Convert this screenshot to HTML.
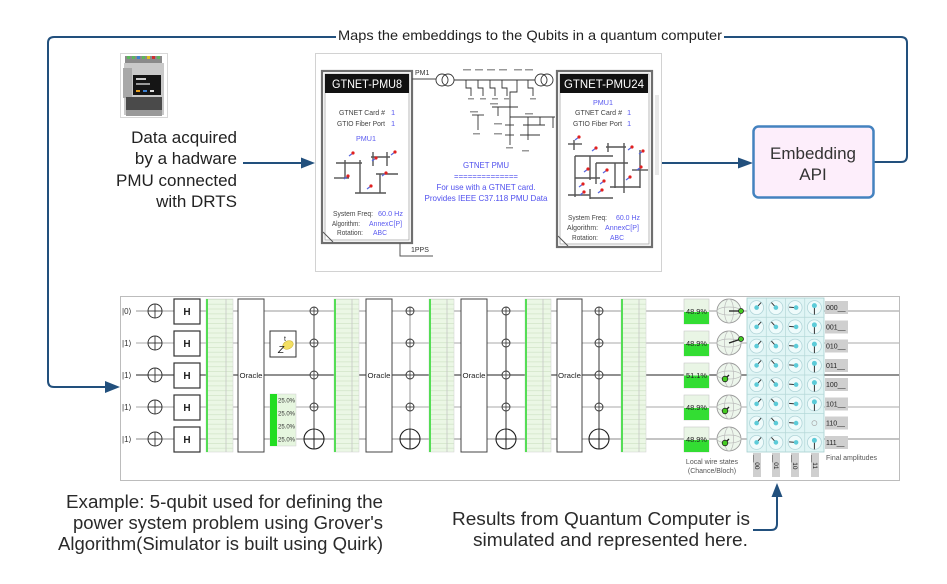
<!DOCTYPE html>
<html><head><meta charset="utf-8">
<style>
html,body{margin:0;padding:0;background:#fff;}
svg{display:block;}
text{font-family:"Liberation Sans",Arial,sans-serif;}
.mono{font-family:"Liberation Mono","DejaVu Sans Mono",monospace;}
</style></head><body>
<svg width="947" height="584" viewBox="0 0 947 584" xmlns="http://www.w3.org/2000/svg" xmlns:xlink="http://www.w3.org/1999/xlink">
<defs>
  <pattern id="gp" x="0" y="299" width="200" height="4.8" patternUnits="userSpaceOnUse">
    <rect width="200" height="4.8" fill="#ebf7e5"/>
    <rect x="0" y="0" width="200" height="0.8" fill="#d3e6ca"/>
  </pattern>
  <g id="xr"><circle r="7" fill="#fff" stroke="#333" stroke-width="1"/><line x1="-7" x2="7" y1="0" y2="0" stroke="#333" stroke-width="0.9"/><line x1="0" x2="0" y1="-7" y2="7" stroke="#333" stroke-width="0.9"/></g>
  <g id="sc"><circle r="4" fill="#fff" stroke="#333" stroke-width="0.9"/><line x1="-4" x2="4" y1="0" y2="0" stroke="#333" stroke-width="0.8"/><line x1="0" x2="0" y1="-4" y2="4" stroke="#333" stroke-width="0.8"/></g>
  <g id="bt"><circle r="10" fill="#fff" stroke="#222" stroke-width="1.1"/><line x1="-10" x2="10" y1="0" y2="0" stroke="#222" stroke-width="1"/><line x1="0" x2="0" y1="-10" y2="10" stroke="#222" stroke-width="1"/></g>
  <g id="a0"><circle r="7" fill="#effbfb" stroke="#b0d4d8" stroke-width="0.8"/><line x1="0" y1="0" x2="4.5" y2="-5" stroke="#333" stroke-width="1"/><circle r="2.3" fill="#5ccbd8"/></g>
  <g id="a1"><circle r="7" fill="#effbfb" stroke="#b0d4d8" stroke-width="0.8"/><line x1="0" y1="0" x2="-4.5" y2="-5" stroke="#333" stroke-width="1"/><circle r="2.3" fill="#5ccbd8"/></g>
  <g id="a2"><circle r="7" fill="#effbfb" stroke="#b0d4d8" stroke-width="0.8"/><line x1="0" y1="0" x2="-6" y2="-0.5" stroke="#333" stroke-width="1"/><circle cx="1" r="2.3" fill="#5ccbd8"/></g>
  <g id="a3"><circle r="7" fill="#effbfb" stroke="#b0d4d8" stroke-width="0.8"/><line x1="0" y1="-2" x2="0" y2="7" stroke="#333" stroke-width="1"/><circle cy="-2" r="2.5" fill="#5ccbd8"/></g>
  <g id="bl"><circle r="12" fill="#edf6ec" stroke="#9a9a9a" stroke-width="0.9"/><ellipse rx="12" ry="4" fill="none" stroke="#bbb" stroke-width="0.7"/><ellipse rx="4.5" ry="12" fill="none" stroke="#bbb" stroke-width="0.7"/></g>
  <g id="rd"><line x1="-4" y1="3" x2="0" y2="0" stroke="#5566dd" stroke-width="1.2"/><circle r="1.6" fill="#e02020"/></g>
</defs>

<!-- ===== main connector (Embedding API -> circuit) ===== -->
<path d="M874,162 H901 Q907,162 907,156 V43 Q907,37 901,37 H54 Q48,37 48,43 V381 Q48,387 54,387 H106" fill="none" stroke="#22507d" stroke-width="2"/>
<polygon points="120,387 105,381 105,393" fill="#22507d"/>
<rect x="336" y="27" width="388" height="18" fill="#fff"/>
<text x="530" y="40" font-size="14" text-anchor="middle" fill="#222" textLength="384" lengthAdjust="spacingAndGlyphs">Maps the embeddings to the Qubits in a quantum computer</text>

<!-- ===== PMU device icon ===== -->
<rect x="120.5" y="53.5" width="47" height="64" fill="#fff" stroke="#d8d8d8"/>
<rect x="125" y="56" width="37" height="7" fill="#8a8a8a"/>
<rect x="127" y="56" width="3" height="3" fill="#5cb85c"/><rect x="132" y="56" width="3" height="3" fill="#5cb85c"/><rect x="137" y="56" width="3" height="3" fill="#3b7fd0"/><rect x="142" y="56" width="3" height="3" fill="#5cb85c"/><rect x="147" y="56" width="3" height="3" fill="#e0c020"/><rect x="152" y="56" width="3" height="3" fill="#d03030"/><rect x="157" y="56" width="3" height="3" fill="#5cb85c"/>
<rect x="124" y="63" width="40" height="52" fill="#c9c9c9"/>
<rect x="123" y="68" width="9" height="30" fill="#a9a9a9"/>
<rect x="133" y="75" width="28" height="20" fill="#151515"/>
<rect x="136" y="78" width="10" height="2" fill="#ccc"/><rect x="136" y="83" width="14" height="2" fill="#999"/>
<rect x="136" y="90" width="4" height="2" fill="#e8a020"/><rect x="143" y="90" width="4" height="2" fill="#3b7fd0"/><rect x="150" y="90" width="4" height="2" fill="#ddd"/>
<rect x="126" y="97" width="36" height="13" fill="#4a4a4a"/>
<rect x="126" y="110" width="36" height="6" fill="#9a9a9a"/>

<!-- ===== Data acquired text ===== -->
<g font-size="17" fill="#222" text-anchor="end">
<text x="237" y="143">Data acquired</text>
<text x="237" y="164">by a hadware</text>
<text x="237" y="186">PMU connected</text>
<text x="237" y="207">with DRTS</text>
</g>
<line x1="243" y1="163" x2="302" y2="163" stroke="#22507d" stroke-width="2"/>
<polygon points="315,163 301,157.5 301,168.5" fill="#22507d"/>

<!-- ===== PMU screenshot ===== -->
<rect x="315.5" y="53.5" width="346" height="218" fill="#fff" stroke="#d2d2d2"/>

<!-- left block -->
<rect x="322" y="71" width="90" height="172" fill="#fff" stroke="#6f6f6f" stroke-width="2.2"/>
<rect x="325" y="74" width="84" height="166" fill="none" stroke="#a8a8a8" stroke-width="0.8"/>
<rect x="325" y="74" width="84" height="19" fill="#111"/>
<text x="367" y="88" font-size="12" fill="#fff" text-anchor="middle" textLength="70" lengthAdjust="spacingAndGlyphs">GTNET-PMU8</text>
<g font-size="7.5" fill="#444">
<text x="339" y="115" textLength="46" lengthAdjust="spacingAndGlyphs">GTNET Card #</text>
<text x="337" y="126" textLength="48" lengthAdjust="spacingAndGlyphs">GTIO Fiber Port</text>
<text x="333" y="216" textLength="40" lengthAdjust="spacingAndGlyphs">System Freq:</text>
<text x="332" y="226" textLength="28" lengthAdjust="spacingAndGlyphs">Algorithm:</text>
<text x="337" y="235" textLength="26" lengthAdjust="spacingAndGlyphs">Rotation:</text>
</g>
<g font-size="7.5" fill="#5a5af0">
<text x="391" y="115">1</text><text x="391" y="126">1</text>
<text x="366" y="141" text-anchor="middle" textLength="20" lengthAdjust="spacingAndGlyphs">PMU1</text>
<text x="378" y="216" textLength="25" lengthAdjust="spacingAndGlyphs">60.0 Hz</text>
<text x="369" y="226" textLength="33" lengthAdjust="spacingAndGlyphs">AnnexC[P]</text>
<text x="373" y="235" textLength="14" lengthAdjust="spacingAndGlyphs">ABC</text>
</g>
<line x1="323" y1="232" x2="333" y2="242" stroke="#555" stroke-width="1"/>
<!-- left tree -->
<g stroke="#555" stroke-width="1.4" fill="none">
<path d="M336,163 H362"/><path d="M345,160 V178"/><path d="M360,160 V193"/>
<path d="M371,157 H390"/><path d="M373,152 V166"/><path d="M387,152 V166"/>
<path d="M376,174 H398"/><path d="M380,174 V193"/><path d="M355,193 H386"/><path d="M334,178 H349"/>
</g>
<use xlink:href="#rd" x="353" y="153"/><use xlink:href="#rd" x="395" y="152"/><use xlink:href="#rd" x="376" y="158"/>
<use xlink:href="#rd" x="348" y="176"/><use xlink:href="#rd" x="386" y="173"/><use xlink:href="#rd" x="371" y="186"/>

<!-- PM1 / 1PPS -->
<line x1="412" y1="79" x2="436" y2="79" stroke="#444" stroke-width="1"/>
<text x="415" y="75" font-size="7" fill="#333">PM1</text>
<path d="M400,243 V256 H433" fill="none" stroke="#555" stroke-width="1"/>
<text x="411" y="252" font-size="7" fill="#333">1PPS</text>

<!-- single-line diagram -->
<g stroke="#333" stroke-width="0.9" fill="none">
<circle cx="442" cy="80" r="6"/><circle cx="448" cy="80" r="6"/>
<circle cx="541" cy="80" r="6"/><circle cx="547" cy="80" r="6"/>
<path d="M454,80 H535"/>
<path d="M466,80 V88 H471 V96"/><path d="M478,80 V88 H483 V96"/><path d="M490,80 V88 H495 V96"/>
<path d="M502,80 V88 H507 V96"/><path d="M517,80 V92 H510 V145"/><path d="M528,80 V88 H533 V96"/>
<path d="M492,107 H518"/><path d="M498,107 V116"/>
<path d="M510,117 H555"/><path d="M528,117 V140"/><path d="M523,125 H545"/><path d="M520,135 H540"/>
<path d="M472,115 H484"/><path d="M478,115 V130"/>
<path d="M505,125 H514"/><path d="M505,135 H514"/>
<path d="M540,117 V125"/><path d="M553,117 V128"/>
</g>
<g fill="#999">
<rect x="463" y="69" width="8" height="1.5"/><rect x="475" y="69" width="8" height="1.5"/><rect x="487" y="69" width="8" height="1.5"/><rect x="499" y="69" width="8" height="1.5"/><rect x="514" y="69" width="8" height="1.5"/><rect x="525" y="69" width="8" height="1.5"/>
<rect x="468" y="98" width="6" height="1.5"/><rect x="480" y="98" width="6" height="1.5"/><rect x="492" y="98" width="6" height="1.5"/><rect x="504" y="98" width="6" height="1.5"/><rect x="530" y="98" width="6" height="1.5"/>
<rect x="490" y="103" width="8" height="1.5"/><rect x="470" y="111" width="8" height="1.5"/><rect x="525" y="113" width="8" height="1.5"/>
<rect x="494" y="123" width="8" height="1.5"/><rect x="494" y="133" width="8" height="1.5"/><rect x="473" y="133" width="7" height="1.5"/><rect x="506" y="147" width="7" height="1.5"/><rect x="522" y="150" width="7" height="1.5"/>
</g>

<!-- center text -->
<g font-size="8.5" fill="#5050ee" text-anchor="middle">
<text x="486" y="168" textLength="46" lengthAdjust="spacingAndGlyphs">GTNET PMU</text>
<text x="486" y="179" textLength="64" lengthAdjust="spacingAndGlyphs">==============</text>
<text x="486" y="190" textLength="99" lengthAdjust="spacingAndGlyphs">For use with a GTNET card.</text>
<text x="486" y="201" textLength="123" lengthAdjust="spacingAndGlyphs">Provides IEEE C37.118 PMU Data</text>
</g>

<!-- right block -->
<rect x="557" y="71" width="95" height="176" fill="#fff" stroke="#6f6f6f" stroke-width="2.2"/>
<rect x="560" y="74" width="89" height="170" fill="none" stroke="#a8a8a8" stroke-width="0.8"/>
<rect x="560" y="74" width="88" height="19" fill="#111"/>
<text x="604" y="88" font-size="12" fill="#fff" text-anchor="middle" textLength="80" lengthAdjust="spacingAndGlyphs">GTNET-PMU24</text>
<g font-size="7.5" fill="#444">
<text x="575" y="115" textLength="47" lengthAdjust="spacingAndGlyphs">GTNET Card #</text>
<text x="573" y="126" textLength="49" lengthAdjust="spacingAndGlyphs">GTIO Fiber Port</text>
<text x="568" y="220" textLength="39" lengthAdjust="spacingAndGlyphs">System Freq:</text>
<text x="567" y="230" textLength="31" lengthAdjust="spacingAndGlyphs">Algorithm:</text>
<text x="572" y="240" textLength="26" lengthAdjust="spacingAndGlyphs">Rotation:</text>
</g>
<g font-size="7.5" fill="#5a5af0">
<text x="603" y="105" text-anchor="middle" textLength="20" lengthAdjust="spacingAndGlyphs">PMU1</text>
<text x="627" y="115">1</text><text x="627" y="126">1</text>
<text x="616" y="220" textLength="24" lengthAdjust="spacingAndGlyphs">60.0 Hz</text>
<text x="605" y="230" textLength="34" lengthAdjust="spacingAndGlyphs">AnnexC[P]</text>
<text x="610" y="240" textLength="14" lengthAdjust="spacingAndGlyphs">ABC</text>
</g>
<line x1="558" y1="236" x2="568" y2="246" stroke="#555" stroke-width="1"/>
<!-- right tree -->
<g stroke="#555" stroke-width="1.4" fill="none">
<path d="M568,144 H582"/><path d="M574,140 V150"/>
<path d="M606,147 H626"/><path d="M608,143 V152"/><path d="M624,143 V193"/>
<path d="M575,156 H613"/><path d="M575,156 V197"/><path d="M590,156 V180"/>
<path d="M596,163 V184"/><path d="M596,163 H628"/><path d="M615,163 V188"/>
<path d="M575,178 H600"/><path d="M568,195 H590"/><path d="M590,189 V199"/><path d="M590,198 H613"/>
<path d="M610,187 H640"/><path d="M640,150 V188"/><path d="M632,170 H648"/>
</g>
<use xlink:href="#rd" x="579" y="137"/><use xlink:href="#rd" x="596" y="148"/><use xlink:href="#rd" x="632" y="147"/>
<use xlink:href="#rd" x="643" y="151"/><use xlink:href="#rd" x="641" y="167"/><use xlink:href="#rd" x="630" y="177"/>
<use xlink:href="#rd" x="588" y="169"/><use xlink:href="#rd" x="607" y="170"/><use xlink:href="#rd" x="583" y="184"/>
<use xlink:href="#rd" x="604" y="181"/><use xlink:href="#rd" x="602" y="190"/><use xlink:href="#rd" x="584" y="192"/>
<rect x="655" y="95" width="4" height="80" fill="#e8e8e8"/>

<!-- arrow to Embedding API -->
<line x1="662" y1="163" x2="740" y2="163" stroke="#22507d" stroke-width="2"/>
<polygon points="753,163 738,157.5 738,168.5" fill="#22507d"/>

<!-- Embedding API box -->
<rect x="753.5" y="126.5" width="120" height="71" rx="5" fill="#fdeefb" stroke="#4482bf" stroke-width="2.5"/>
<text x="813" y="159" font-size="17" fill="#333" text-anchor="middle">Embedding</text>
<text x="813" y="180" font-size="17" fill="#333" text-anchor="middle">API</text>

<!-- ===== Quantum circuit ===== -->
<rect x="120.5" y="296.5" width="779" height="184" fill="#fff" stroke="#bcbcbc"/>
<!-- wires -->
<g stroke-width="1">
<line x1="136" y1="311" x2="899" y2="311" stroke="#9a9a9a"/>
<line x1="136" y1="343" x2="899" y2="343" stroke="#aaa"/>
<line x1="136" y1="375" x2="899" y2="375" stroke="#222"/>
<line x1="136" y1="407" x2="899" y2="407" stroke="#aaa"/>
<line x1="136" y1="439" x2="899" y2="439" stroke="#888"/>
</g>
<g font-size="8" fill="#333" style="font-family:'Liberation Sans','DejaVu Sans',sans-serif">
<text x="122" y="314">|0⟩</text><text x="122" y="346">|1⟩</text><text x="122" y="378">|1⟩</text><text x="122" y="410">|1⟩</text><text x="122" y="442">|1⟩</text>
</g>
<use xlink:href="#xr" x="155" y="311"/><use xlink:href="#xr" x="155" y="343"/><use xlink:href="#xr" x="155" y="375"/><use xlink:href="#xr" x="155" y="407"/><use xlink:href="#xr" x="155" y="439"/>
<!-- H gates -->
<g fill="#fff" stroke="#333" stroke-width="1.2">
<rect x="174" y="299" width="26" height="25"/><rect x="174" y="331" width="26" height="25"/><rect x="174" y="363" width="26" height="25"/><rect x="174" y="395" width="26" height="25"/><rect x="174" y="427" width="26" height="25"/>
</g>
<g font-size="10" font-weight="bold" fill="#222" text-anchor="middle">
<text x="187" y="315">H</text><text x="187" y="347">H</text><text x="187" y="379">H</text><text x="187" y="411">H</text><text x="187" y="443">H</text>
</g>
<!-- green density displays -->
<g>
<rect x="206" y="299" width="27" height="153" fill="url(#gp)" stroke="#d0d0d0" stroke-width="0.5"/><line x1="207" y1="299" x2="207" y2="452" stroke="#55dd55" stroke-width="2"/><line x1="226" y1="299" x2="226" y2="452" stroke="#c6c6c6" stroke-width="0.8"/>
<rect x="334" y="299" width="25" height="153" fill="url(#gp)" stroke="#d0d0d0" stroke-width="0.5"/><line x1="335" y1="299" x2="335" y2="452" stroke="#55dd55" stroke-width="2"/><line x1="352" y1="299" x2="352" y2="452" stroke="#c6c6c6" stroke-width="0.8"/>
<rect x="429" y="299" width="25" height="153" fill="url(#gp)" stroke="#d0d0d0" stroke-width="0.5"/><line x1="430" y1="299" x2="430" y2="452" stroke="#55dd55" stroke-width="2"/><line x1="447" y1="299" x2="447" y2="452" stroke="#c6c6c6" stroke-width="0.8"/>
<rect x="525" y="299" width="26" height="153" fill="url(#gp)" stroke="#d0d0d0" stroke-width="0.5"/><line x1="526" y1="299" x2="526" y2="452" stroke="#55dd55" stroke-width="2"/><line x1="543" y1="299" x2="543" y2="452" stroke="#c6c6c6" stroke-width="0.8"/>
<rect x="621" y="299" width="25" height="153" fill="url(#gp)" stroke="#d0d0d0" stroke-width="0.5"/><line x1="622" y1="299" x2="622" y2="452" stroke="#55dd55" stroke-width="2"/><line x1="639" y1="299" x2="639" y2="452" stroke="#c6c6c6" stroke-width="0.8"/>
</g>
<!-- Oracles -->
<g fill="#fff" stroke="#444" stroke-width="1">
<rect x="238" y="299" width="26" height="153"/><rect x="366" y="299" width="26" height="153"/><rect x="461" y="299" width="26" height="153"/><rect x="557" y="299" width="25" height="153"/>
</g>
<g font-size="7.5" fill="#222" text-anchor="middle">
<text x="251" y="378" textLength="23" lengthAdjust="spacingAndGlyphs">Oracle</text>
<text x="379" y="378" textLength="23" lengthAdjust="spacingAndGlyphs">Oracle</text>
<text x="474" y="378" textLength="23" lengthAdjust="spacingAndGlyphs">Oracle</text>
<text x="569.5" y="378" textLength="23" lengthAdjust="spacingAndGlyphs">Oracle</text>
</g>
<!-- Z^t gate -->
<rect x="270" y="331" width="26" height="26" fill="#fff" stroke="#333" stroke-width="1"/>
<ellipse cx="288" cy="345" rx="5.5" ry="4" fill="#f3df62" stroke="#c8b030" stroke-width="0.5" transform="rotate(-25 288 345)"/>
<text x="278" y="353" font-size="10" font-style="italic" fill="#222">Z</text>
<text x="284" y="341" font-size="7" fill="#222">t</text>
<!-- 25% display -->
<rect x="270" y="394" width="26" height="52" fill="#e6f6df" stroke="#d0d0d0" stroke-width="0.5"/>
<rect x="270" y="394" width="7" height="52" fill="#22dd22"/>
<g class="mono" font-size="6" fill="#333">
<text x="278" y="402.5">25.0%</text><text x="278" y="415.5">25.0%</text><text x="278" y="428.5">25.0%</text><text x="278" y="441.5">25.0%</text>
</g>
<!-- control columns -->
<line x1="314" y1="311" x2="314" y2="439" stroke="#444" stroke-width="1"/>
<line x1="410" y1="311" x2="410" y2="439" stroke="#999" stroke-width="1"/>
<line x1="506" y1="311" x2="506" y2="439" stroke="#333" stroke-width="1"/>
<line x1="599" y1="311" x2="599" y2="439" stroke="#333" stroke-width="1"/>
<use xlink:href="#sc" x="314" y="311"/><use xlink:href="#sc" x="314" y="343"/><use xlink:href="#sc" x="314" y="375"/><use xlink:href="#sc" x="314" y="407"/><use xlink:href="#bt" x="314" y="439"/>
<use xlink:href="#sc" x="410" y="311"/><use xlink:href="#sc" x="410" y="343"/><use xlink:href="#sc" x="410" y="375"/><use xlink:href="#sc" x="410" y="407"/><use xlink:href="#bt" x="410" y="439"/>
<use xlink:href="#sc" x="506" y="311"/><use xlink:href="#sc" x="506" y="343"/><use xlink:href="#sc" x="506" y="375"/><use xlink:href="#sc" x="506" y="407"/><use xlink:href="#bt" x="506" y="439"/>
<use xlink:href="#sc" x="599" y="311"/><use xlink:href="#sc" x="599" y="343"/><use xlink:href="#sc" x="599" y="375"/><use xlink:href="#sc" x="599" y="407"/><use xlink:href="#bt" x="599" y="439"/>

<!-- chance displays -->
<g stroke="#c8c8c8" stroke-width="0.6">
<rect x="684" y="299" width="25" height="25" fill="#e9f5e5"/><rect x="684" y="312" width="25" height="12" fill="#33dd33" stroke="none"/>
<rect x="684" y="331" width="25" height="25" fill="#e9f5e5"/><rect x="684" y="344" width="25" height="12" fill="#33dd33" stroke="none"/>
<rect x="684" y="363" width="25" height="25" fill="#e9f5e5"/><rect x="684" y="375.5" width="25" height="12.5" fill="#33dd33" stroke="none"/>
<rect x="684" y="395" width="25" height="25" fill="#e9f5e5"/><rect x="684" y="408" width="25" height="12" fill="#33dd33" stroke="none"/>
<rect x="684" y="427" width="25" height="25" fill="#e9f5e5"/><rect x="684" y="440" width="25" height="12" fill="#33dd33" stroke="none"/>
</g>
<g font-size="7.5" fill="#222" text-anchor="middle">
<text x="696.5" y="314" textLength="21" lengthAdjust="spacingAndGlyphs">48.9%</text>
<text x="696.5" y="346" textLength="21" lengthAdjust="spacingAndGlyphs">48.9%</text>
<text x="696.5" y="378" textLength="21" lengthAdjust="spacingAndGlyphs">51.1%</text>
<text x="696.5" y="410" textLength="21" lengthAdjust="spacingAndGlyphs">48.9%</text>
<text x="696.5" y="442" textLength="21" lengthAdjust="spacingAndGlyphs">48.9%</text>
</g>
<!-- Bloch spheres -->
<use xlink:href="#bl" x="729" y="311"/><use xlink:href="#bl" x="729" y="343"/><use xlink:href="#bl" x="729" y="375"/><use xlink:href="#bl" x="729" y="407"/><use xlink:href="#bl" x="729" y="439"/>
<g stroke="#222" stroke-width="1.3">
<line x1="729" y1="311" x2="741" y2="311"/><line x1="729" y1="343" x2="741" y2="339"/>
<line x1="729" y1="375" x2="725" y2="379"/><line x1="729" y1="407" x2="725" y2="411"/><line x1="729" y1="439" x2="725" y2="443"/>
</g>
<g fill="#44cc22" stroke="#222" stroke-width="0.8">
<circle cx="741" cy="311" r="2.5"/><circle cx="741" cy="339" r="2.5"/><circle cx="725" cy="379" r="2.8"/><circle cx="725" cy="411" r="2.8"/><circle cx="725" cy="443" r="2.8"/>
</g>
<text x="712" y="464" font-size="7" fill="#555" text-anchor="middle">Local wire states</text>
<text x="712" y="473" font-size="7" fill="#555" text-anchor="middle">(Chance/Bloch)</text>

<!-- amplitude grid -->
<rect x="747" y="298" width="77" height="154" fill="#e0f5f5" stroke="#a6cfcf" stroke-width="0.8"/>
<g stroke="#b5d8d8" stroke-width="0.7">
<line x1="766.25" y1="298" x2="766.25" y2="452"/><line x1="785.5" y1="298" x2="785.5" y2="452"/><line x1="804.75" y1="298" x2="804.75" y2="452"/>
<line x1="747" y1="317.25" x2="824" y2="317.25"/><line x1="747" y1="336.5" x2="824" y2="336.5"/><line x1="747" y1="355.75" x2="824" y2="355.75"/><line x1="747" y1="375" x2="824" y2="375"/><line x1="747" y1="394.25" x2="824" y2="394.25"/><line x1="747" y1="413.5" x2="824" y2="413.5"/><line x1="747" y1="432.75" x2="824" y2="432.75"/>
</g>
<use xlink:href="#a0" x="756.6" y="307.6"/><use xlink:href="#a1" x="775.9" y="307.6"/><use xlink:href="#a2" x="795.1" y="307.6"/><use xlink:href="#a3" x="814.4" y="307.6"/>
<use xlink:href="#a0" x="756.6" y="326.9"/><use xlink:href="#a1" x="775.9" y="326.9"/><use xlink:href="#a2" x="795.1" y="326.9"/><use xlink:href="#a3" x="814.4" y="326.9"/>
<use xlink:href="#a0" x="756.6" y="346.1"/><use xlink:href="#a1" x="775.9" y="346.1"/><use xlink:href="#a2" x="795.1" y="346.1"/><use xlink:href="#a3" x="814.4" y="346.1"/>
<use xlink:href="#a0" x="756.6" y="365.4"/><use xlink:href="#a1" x="775.9" y="365.4"/><use xlink:href="#a2" x="795.1" y="365.4"/><use xlink:href="#a3" x="814.4" y="365.4"/>
<use xlink:href="#a0" x="756.6" y="384.6"/><use xlink:href="#a1" x="775.9" y="384.6"/><use xlink:href="#a2" x="795.1" y="384.6"/><use xlink:href="#a3" x="814.4" y="384.6"/>
<use xlink:href="#a0" x="756.6" y="403.9"/><use xlink:href="#a1" x="775.9" y="403.9"/><use xlink:href="#a2" x="795.1" y="403.9"/><use xlink:href="#a3" x="814.4" y="403.9"/>
<use xlink:href="#a0" x="756.6" y="423.1"/><use xlink:href="#a1" x="775.9" y="423.1"/><use xlink:href="#a2" x="795.1" y="423.1"/>
<circle cx="814.4" cy="423.1" r="2.5" fill="none" stroke="#aaa" stroke-width="0.7"/>
<use xlink:href="#a0" x="756.6" y="442.4"/><use xlink:href="#a1" x="775.9" y="442.4"/><use xlink:href="#a2" x="795.1" y="442.4"/><use xlink:href="#a3" x="814.4" y="442.4"/>
<!-- amplitude labels -->
<g fill="#cfcfcf">
<rect x="825" y="301" width="23" height="13"/><rect x="825" y="320.5" width="23" height="13"/><rect x="825" y="339.5" width="23" height="13"/><rect x="825" y="359" width="23" height="13"/>
<rect x="825" y="378" width="23" height="13"/><rect x="825" y="397.5" width="23" height="13"/><rect x="825" y="416.5" width="23" height="13"/><rect x="825" y="436" width="23" height="13"/>
</g>
<g class="mono" font-size="7" fill="#222">
<text x="826" y="310">000__</text><text x="826" y="329.5">001__</text><text x="826" y="348.5">010__</text><text x="826" y="368">011__</text>
<text x="826" y="387">100__</text><text x="826" y="406.5">101__</text><text x="826" y="425.5">110__</text><text x="826" y="445">111__</text>
</g>
<text x="826" y="460" font-size="7" fill="#555">Final amplitudes</text>
<!-- column labels -->
<g fill="#cfcfcf">
<rect x="753" y="453" width="8" height="24"/><rect x="772" y="453" width="8" height="24"/><rect x="791" y="453" width="8" height="24"/><rect x="811" y="453" width="8" height="24"/>
</g>
<g class="mono" font-size="6.5" fill="#222">
<text transform="translate(755 455) rotate(90)">__00</text>
<text transform="translate(774 455) rotate(90)">__01</text>
<text transform="translate(793 455) rotate(90)">__10</text>
<text transform="translate(813 455) rotate(90)">__11</text>
</g>

<!-- ===== bottom texts ===== -->
<g font-size="18" fill="#2a2a2a" text-anchor="end">
<text x="383" y="508" textLength="317" lengthAdjust="spacingAndGlyphs">Example: 5-qubit used for defining the</text>
<text x="383" y="529" textLength="310" lengthAdjust="spacingAndGlyphs">power system problem using Grover's</text>
<text x="383" y="550" textLength="325" lengthAdjust="spacingAndGlyphs">Algorithm(Simulator is built using Quirk)</text>
</g>
<g font-size="18" fill="#2a2a2a" text-anchor="end">
<text x="750" y="525" textLength="298" lengthAdjust="spacingAndGlyphs">Results from Quantum Computer is</text>
<text x="748" y="546" textLength="275" lengthAdjust="spacingAndGlyphs">simulated and represented here.</text>
</g>
<path d="M753,530 H771 Q777,530 777,524 V495" fill="none" stroke="#22507d" stroke-width="2"/>
<polygon points="777,483 771.5,497 782.5,497" fill="#22507d"/>
</svg>
</body></html>
